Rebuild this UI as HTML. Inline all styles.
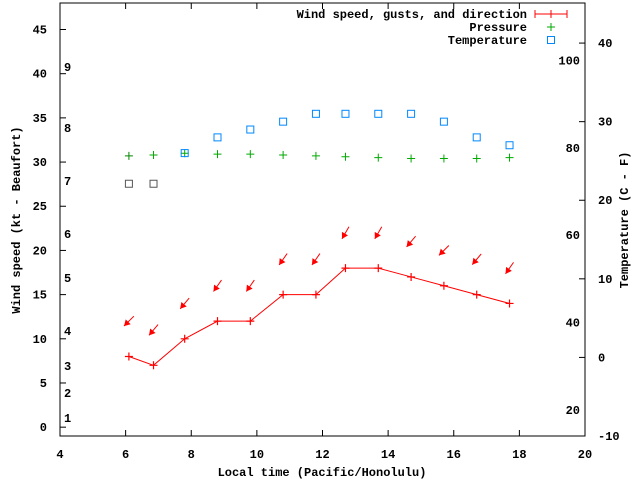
<!DOCTYPE html>
<html><head><meta charset="utf-8"><style>
body{margin:0;background:#fff}
svg text{font-family:"Liberation Mono",monospace;font-weight:bold;font-size:12px;fill:#000}
</style></head><body>
<svg id="c" width="640" height="480" xmlns="http://www.w3.org/2000/svg"></svg>
<script>
const hours=[6.1,6.85,7.8,8.8,9.8,10.8,11.8,12.7,13.7,14.7,15.7,16.7,17.7];
const windKt=[8,7,10,12,12,15,15,18,18,17,16,15,14];
const windDir=[45,40,40,35,35,35,35,30,30,40,45,40,35];
const pressure=[30.7,30.8,31,30.9,30.9,30.8,30.7,30.6,30.5,30.4,30.4,30.4,30.5];
const tempC=[22.1,22.1,26,28,29,30,31,31,31,31,30,28,27];
const xTicks=[4,6,8,10,12,14,16,18,20];
const yTicks=[0,5,10,15,20,25,30,35,40,45];
const cTicks=[-10,0,10,20,30,40];
const fTicks=[20,40,60,80,100];
const beaufort=[[1,418],[2,393],[3,366],[4,331],[5,278],[6,234],[7,181],[8,128],[9,67]];

const L=60,R=585,T=3,B=436;
const X=v=>L+(v-4)/16*(R-L);
const Y=v=>B-(v+1)/49*(B-T);
const YC=c=>B-(c+10)/55.1*(B-T);
const svg=document.getElementById('c');
const NS='http://www.w3.org/2000/svg';
function mk(t,a,p){const e=document.createElementNS(NS,t);for(const k in a)e.setAttribute(k,a[k]);(p||svg).appendChild(e);return e;}
function txt(x,y,s,anchor,name){const e=mk('text',{x:x,y:y,'text-anchor':anchor||'middle'});e.textContent=s;

return e;}

const frame=mk('rect',{x:L,y:T,width:R-L,height:B-T,fill:'none',stroke:'#000','stroke-width':1});



xTicks.forEach(v=>{const x=X(v);mk('line',{x1:x,y1:B,x2:x,y2:B-6,stroke:'#000'});mk('line',{x1:x,y1:T,x2:x,y2:T+6,stroke:'#000'});txt(x,458,String(v),'middle','x-tick-label');});
yTicks.forEach(v=>{const y=Y(v);mk('line',{x1:L,y1:y,x2:L+6,y2:y,stroke:'#000'});txt(47,y+4,String(v),'end','y-tick-label');});
cTicks.forEach(v=>{const y=YC(v);mk('line',{x1:R,y1:y,x2:R-6,y2:y,stroke:'#000'});txt(598,y+4,String(v),'start','y2-tick-label');});
fTicks.forEach(v=>{const y=YC((v-32)*5/9);txt(580,y+4,String(v),'end','fahrenheit-label');});
beaufort.forEach(b=>txt(64,b[1]+4,String(b[0]),'start','beaufort-label'));

txt(322,476,'Local time (Pacific/Honolulu)','middle','x-axis-title');
let t1=txt(0,0,'Wind speed (kt - Beaufort)','middle','y-axis-title');t1.setAttribute('transform','translate(20,220) rotate(-90)');
let t2=txt(0,0,'Temperature (C - F)','middle','y2-axis-title');t2.setAttribute('transform','translate(628,220) rotate(-90)');

// wind line
const pts=hours.map((h,i)=>X(h)+','+Y(windKt[i])).join(' ');
const wl=mk('polyline',{points:pts,fill:'none',stroke:'#f00','stroke-width':1});


hours.forEach((h,i)=>{const x=X(h),y=Y(windKt[i]);
const p=mk('path',{d:`M${x-4} ${y}H${x+4}M${x} ${y-4}V${y+4}`,stroke:'#f00','stroke-width':1.2});

});
// direction arrows
hours.forEach((h,i)=>{const cx=X(h),cy=Y(windKt[i]+4);const a=windDir[i]*Math.PI/180;
const dx=Math.sin(a)*7,dy=-Math.cos(a)*7;
const tx=cx+dx,ty=cy+dy,hx=cx-dx,hy=cy-dy;
const ux=-dx/7,uy=-dy/7;const bx=hx-ux*6,by=hy-uy*6;
const g=mk('g',{});


mk('line',{x1:tx,y1:ty,x2:hx,y2:hy,stroke:'#f00','stroke-width':1},g);
mk('polygon',{points:`${hx},${hy} ${bx-uy*3.5},${by+ux*3.5} ${bx+uy*3.5},${by-ux*3.5}`,fill:'#f00'},g);});
// pressure
hours.forEach((h,i)=>{const x=X(h),y=Y(pressure[i]);
const p=mk('path',{d:`M${x-4} ${y}H${x+4}M${x} ${y-4}V${y+4}`,stroke:i==0?'#080':'#0a0','stroke-width':1});

});
// temperature
hours.forEach((h,i)=>{const x=X(h),y=YC(tempC[i]);
const r=mk('rect',{x:x-3.5,y:y-3.5,width:7,height:7,fill:'none',stroke:i<2?'#555':'#08f','stroke-width':1});

});
// legend
const lg=mk('g',{});


txt(527,18,'Wind speed, gusts, and direction','end','legend-wind');
txt(527,31,'Pressure','end','legend-pressure');
txt(527,44,'Temperature','end','legend-temperature');
mk('path',{d:'M535 14H567M535 10V18M567 10V18M551 10V18',stroke:'#f00'},lg);
mk('path',{d:'M547 27H555M551 23V31',stroke:'#0a0'},lg);
mk('rect',{x:547.5,y:36.5,width:7,height:7,fill:'none',stroke:'#08f'},lg);
</script>
</body></html>
